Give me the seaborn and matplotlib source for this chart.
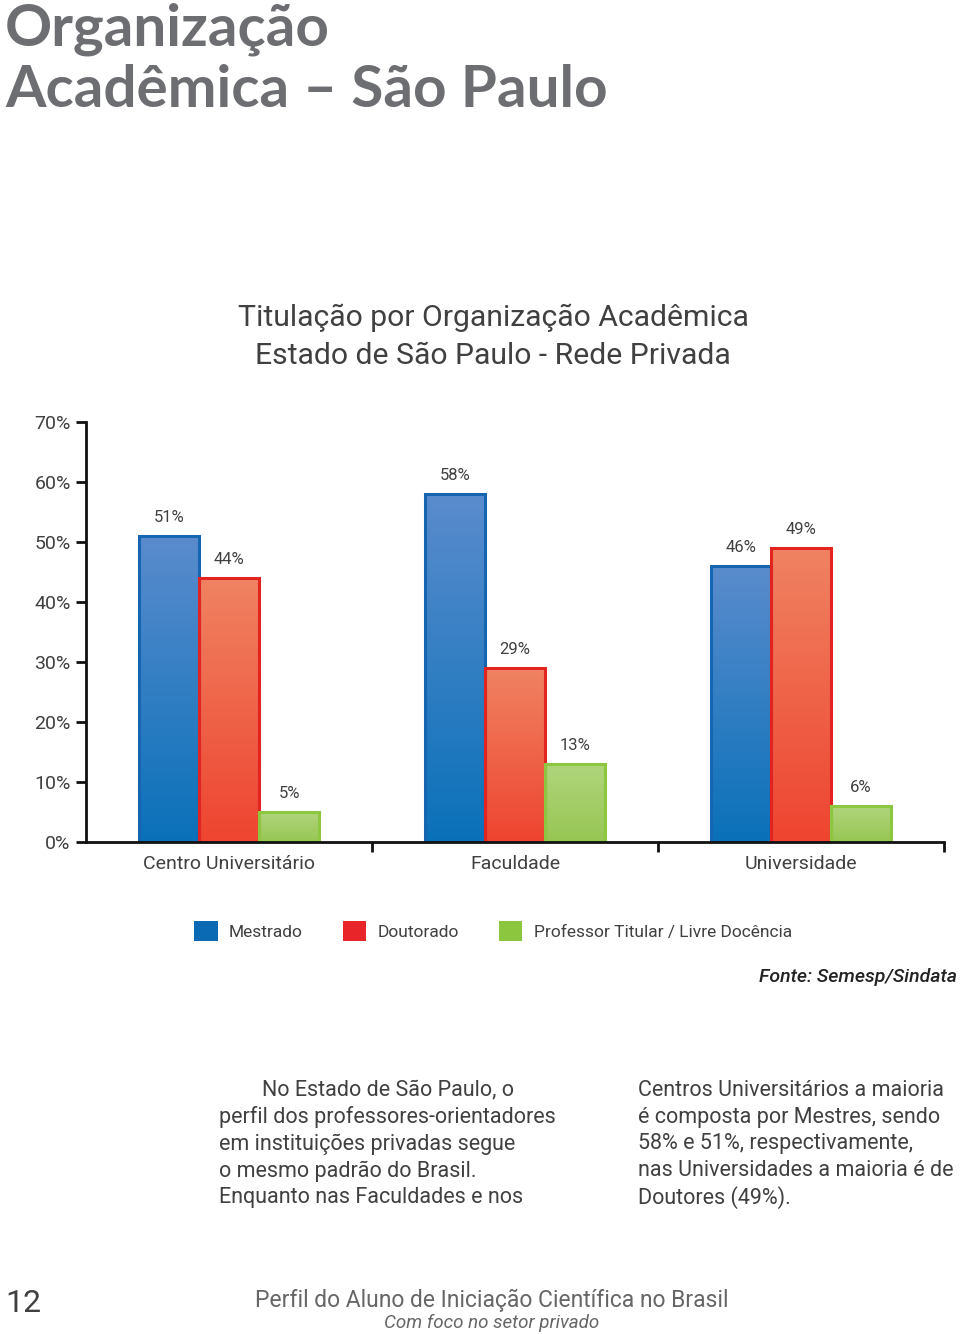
import numpy as np
import pandas as pd
import matplotlib
matplotlib.use("Agg")
import matplotlib.pyplot as plt
import seaborn as sns
from matplotlib.colors import LinearSegmentedColormap

# -------------------------------------------------------------------------
# Data
# -------------------------------------------------------------------------
CATEGORIES = ["Centro Universitário", "Faculdade", "Universidade"]
SERIES = ["Mestrado", "Doutorado", "Professor Titular / Livre Docência"]
MESTRADO = [51, 58, 46]
DOUTORADO = [44, 29, 49]
TITULAR = [5, 13, 6]
Y_TICKS = [0, 10, 20, 30, 40, 50, 60, 70]

PALETTE = {"Mestrado": "#0a6ab4",
           "Doutorado": "#e8262a",
           "Professor Titular / Livre Docência": "#8cc63f"}
EDGES = {"Mestrado": "#1565b0",
         "Doutorado": "#e2231f",
         "Professor Titular / Livre Docência": "#8dc63f"}
# top -> bottom gradient
GRADS = {"Mestrado": ("#5a8ccd", "#0a71b9"),
         "Doutorado": ("#f08362", "#ee4430"),
         "Professor Titular / Livre Docência": ("#b0d57c", "#97c653")}

df = pd.DataFrame({
    "categoria": CATEGORIES * 3,
    "serie": [SERIES[0]] * 3 + [SERIES[1]] * 3 + [SERIES[2]] * 3,
    "valor": MESTRADO + DOUTORADO + TITULAR,
})

sns.set_style("white")
plt.rcParams["font.family"] = ["Roboto", "DejaVu Sans"]
TXT = "#404040"
W = "normal"

fig = plt.figure(figsize=(9.6, 13.34), dpi=100)
ax = fig.add_axes([86 / 960, 1 - 842 / 1334, (944 - 86) / 960, (842 - 422) / 1334])

sns.barplot(data=df, x="categoria", y="valor", hue="serie", order=CATEGORIES,
            hue_order=SERIES, palette=PALETTE, width=0.63, ax=ax,
            saturation=1, errorbar=None)

ax.set_xlim(-0.5, 2.5)
ax.set_ylim(0, 70)

# gradient fill, clipped to each bar
bars = [p for p in ax.patches if p.get_height() > 0 and p.get_width() < 0.5]
for i, p in enumerate(bars):
    serie = SERIES[i // 3]
    top, bot = GRADS[serie]
    cmap = LinearSegmentedColormap.from_list("g", [bot, top])
    x0, y0 = p.get_x(), p.get_y()
    w, h = p.get_width(), p.get_height()
    grad = np.linspace(0, 1, 256).reshape(-1, 1)
    im = ax.imshow(grad, cmap=cmap, origin="lower", aspect="auto",
                   extent=[x0, x0 + w, y0, y0 + h], zorder=p.get_zorder() - 0.1)
    im.set_clip_path(p)
    p.set_facecolor("none")
    p.set_edgecolor(EDGES[serie])
    p.set_linewidth(2.2)
    ax.annotate(f"{int(round(h))}%", (x0 + w / 2, h), xytext=(0, 8),
                textcoords="offset points", ha="center", va="bottom",
                fontsize=12, color=TXT, fontweight=W)

ax.set_xlim(-0.5, 2.5)
ax.set_ylim(0, 70)

# axes styling
for s in ["top", "right"]:
    ax.spines[s].set_visible(False)
for s in ["left", "bottom"]:
    ax.spines[s].set_color("#111111")
    ax.spines[s].set_linewidth(2)

ax.set_yticks(Y_TICKS)
ax.set_yticklabels([f"{t}%" for t in Y_TICKS], fontsize=14, color=TXT,
                   fontweight=W)
ax.tick_params(axis="y", length=7, width=2, color="#111111", pad=4, left=True)

ax.set_xticks([0.5, 1.5, 2.5])
ax.set_xticklabels([])
ax.tick_params(axis="x", length=7, width=2, color="#111111", bottom=True)
for i, c in enumerate(CATEGORIES):
    ax.text(i, -2.1, c, ha="center", va="top", fontsize=14, color=TXT,
            fontweight=W, transform=ax.transData)
ax.set_xlabel("")
ax.set_ylabel("")
ax.grid(False)

sns.move_legend(ax, "center", bbox_to_anchor=(0.5135, 1 - 931 / 1334),
                bbox_transform=fig.transFigure, ncol=3, frameon=False,
                title=None, fontsize=12.5, handlelength=1.35, handleheight=1.35,
                handletextpad=0.65, columnspacing=2.3)
for t in ax.get_legend().get_texts():
    t.set_color(TXT)
    t.set_fontweight(W)
for hnd in ax.get_legend().legend_handles:
    hnd.set_edgecolor("none")

# page texts
fig.text(5 / 960, 1 - 45 / 1334, "Organização", fontsize=42, fontweight="bold",
         color="#6d6e71", family=["Lato", "DejaVu Sans"], va="baseline")
fig.text(5 / 960, 1 - 107 / 1334, "Acadêmica – São Paulo", fontsize=42,
         fontweight="bold", color="#6d6e71", family=["Lato", "DejaVu Sans"],
         va="baseline")

fig.text(493 / 960, 1 - 318 / 1334, "Titulação por Organização Acadêmica",
         ha="center", va="center", fontsize=21.7, color=TXT, fontweight=W)
fig.text(493 / 960, 1 - 356 / 1334, "Estado de São Paulo - Rede Privada",
         ha="center", va="center", fontsize=21.7, color=TXT, fontweight=W)

fig.text(957 / 960, 1 - 977 / 1334, "Fonte: Semesp/Sindata", ha="right",
         va="center", fontsize=14, style="italic", fontweight="medium",
         color="#222222")

left_lines = ["        No Estado de São Paulo, o",
              "perfil dos professores-orientadores",
              "em instituições privadas segue",
              "o mesmo padrão do Brasil.",
              "Enquanto nas Faculdades e nos"]
right_lines = ["Centros Universitários a maioria",
               "é composta por Mestres, sendo",
               "58% e 51%, respectivamente,",
               "nas Universidades a maioria é de",
               "Doutores (49%)."]
for k, line in enumerate(left_lines):
    fig.text(219 / 960, 1 - (1090 + 27 * k) / 1334, line, ha="left",
             va="center", fontsize=15.5, color=TXT, fontweight=W)
for k, line in enumerate(right_lines):
    fig.text(638 / 960, 1 - (1090 + 27 * k) / 1334, line, ha="left",
             va="center", fontsize=15.5, color=TXT, fontweight=W)

fig.text(5 / 960, 1 - 1303 / 1334, "12", ha="left", va="center", fontsize=23,
         color=TXT, fontweight=W)
fig.text(492 / 960, 1 - 1300 / 1334,
         "Perfil do Aluno de Iniciação Científica no Brasil", ha="center",
         va="center", fontsize=16.5, color="#666666", fontweight=W)
fig.text(492 / 960, 1 - 1323 / 1334, "Com foco no setor privado", ha="center",
         va="center", fontsize=13.5, color="#666666", style="italic",
         fontweight=W)

fig.savefig("out.png", dpi=100, facecolor="white")
